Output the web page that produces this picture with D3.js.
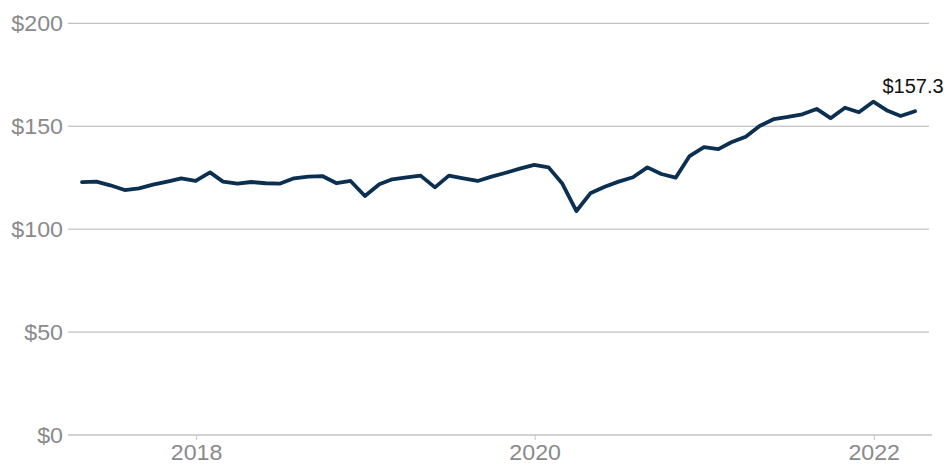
<!DOCTYPE html>
<html>
<head>
<meta charset="utf-8">
<script src="https://cdn.jsdelivr.net/npm/d3@7"></script>
<style>
  html, body { margin: 0; padding: 0; background: #fff; }
  svg { display: block; }
</style>
</head>
<body>
<svg id="chart" width="949" height="466"></svg>
<script>
// Month-end observation dates (Apr 2017 – Mar 2022)
const startMonth = "2017-04";
const monthCount = 60;

// Value of the holding at each month end, in dollars
const values = [
  122.8, 123.1, 121.3, 119.0, 119.8, 121.6, 123.1, 124.7, 123.4,
  127.6, 123.1, 122.1, 122.9, 122.3, 122.1, 124.7, 125.5, 125.8, 122.3, 123.4, 116.1,
  121.8, 124.2, 125.2, 126.0, 120.3, 126.0, 124.7, 123.4, 125.5, 127.4, 129.4, 131.2,
  130.0, 122.3, 108.8, 117.4, 120.6, 123.1, 125.2, 130.0, 126.8, 125.0, 135.5, 139.8,
  138.9, 142.2, 144.9, 150.1, 153.5, 154.5, 155.8, 158.4, 153.9, 159.0, 156.8, 161.9,
  157.5, 155.0, 157.3
];

const yTicks = [0, 50, 100, 150, 200];
const xTickYears = [2018, 2020, 2022];

const [sy, sm] = startMonth.split("-").map(Number);
// last day of each month
const dates = d3.range(monthCount).map(i => new Date(sy, sm - 1 + i + 1, 0));
const data = dates.map((d, i) => ({ date: d, value: values[i] }));

const svg = d3.select("#chart");
const font = "'Liberation Sans', Arial, sans-serif";
const labelColor = "#8a8a8a";
const stretch = 1.08; // slightly wide lettering for axis labels

const x = d3.scaleTime()
  .domain([dates[0], dates[dates.length - 1]])
  .range([82, 915]);
const y = d3.scaleLinear().domain([0, 200]).range([435, 23.3]);

const gridLeft = 68, gridRight = 929;

// horizontal gridlines
svg.append("g")
  .selectAll("line")
  .data(yTicks.filter(t => t > 0))
  .join("line")
  .attr("x1", gridLeft).attr("x2", gridRight)
  .attr("y1", d => y(d)).attr("y2", d => y(d))
  .attr("stroke", "#b3b3b3").attr("stroke-width", 1);

// y-axis labels
svg.append("g")
  .selectAll("text")
  .data(yTicks)
  .join("text")
  .attr("transform", d => `translate(63,${y(d)}) scale(${stretch},1)`)
  .attr("dy", "0.36em")
  .attr("text-anchor", "end")
  .attr("font-family", font)
  .attr("font-size", 21.5)
  .attr("fill", labelColor)
  .text(d => "$" + d);

// bottom axis
const xAxis = d3.axisBottom(x)
  .tickValues(xTickYears.map(yr => new Date(yr, 0, 1)))
  .tickFormat(d3.timeFormat("%Y"))
  .tickSize(5)
  .tickSizeOuter(0);

const gx = svg.append("g")
  .attr("transform", `translate(0,${y(0)})`)
  .call(xAxis);
gx.select(".domain").remove();
gx.insert("line", ":first-child")
  .attr("x1", gridLeft).attr("x2", gridRight + 3)
  .attr("y1", 0).attr("y2", 0)
  .attr("stroke", "#a6a6a6").attr("stroke-width", 1.2);
gx.selectAll(".tick line").attr("stroke", "#c4c4c4");
gx.selectAll(".tick text")
  .attr("y", null)
  .attr("transform", `translate(0,9) scale(${stretch},1)`)
  .attr("dy", "0.74em")
  .attr("font-family", font)
  .attr("font-size", 21.5)
  .attr("fill", labelColor);

// value line
const line = d3.line()
  .x(d => x(d.date))
  .y(d => y(d.value));

svg.append("path")
  .datum(data)
  .attr("d", line)
  .attr("fill", "none")
  .attr("stroke", "#0b2f50")
  .attr("stroke-width", 3.8)
  .attr("stroke-linejoin", "round")
  .attr("stroke-linecap", "round");

// end-of-series label
const last = data[data.length - 1];
svg.append("text")
  .attr("x", x(last.date) - 2)
  .attr("y", y(last.value) - 18)
  .attr("text-anchor", "middle")
  .attr("font-family", font)
  .attr("font-size", 20)
  .attr("fill", "#111")
  .text("$" + last.value.toFixed(1));
</script>
</body>
</html>
